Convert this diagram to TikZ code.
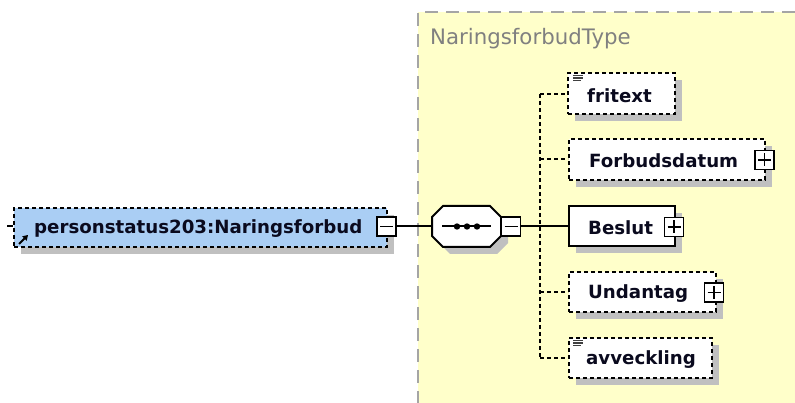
\documentclass[tikz,border=0pt]{standalone}
\usepackage{fontspec}
\setmainfont{DejaVu Sans}
\usetikzlibrary{arrows.meta,shadows}
\definecolor{yellowbg}{RGB}{255,255,202}
\definecolor{bluefill}{RGB}{170,206,244}
\definecolor{shadowgray}{RGB}{192,192,192}
\definecolor{bordergray}{RGB}{165,165,165}
\definecolor{titlegray}{RGB}{128,128,128}
\definecolor{txt}{RGB}{10,10,30}
\tikzset{
  elem/.style={draw, line width=2pt, fill=white, inner sep=0pt,
    general shadow={fill=shadowgray, shadow xshift=7pt, shadow yshift=-7pt}},
  optelem/.style={elem, dash pattern=on 4pt off 3pt},
  lbl/.style={font=\bfseries\fontsize{18.2}{20}\selectfont, text=txt, inner sep=0pt, anchor=west},
  pmbox/.style={draw, line width=1.8pt, fill=white, minimum size=19pt, inner sep=0pt},
  minusbox/.style={pmbox, path picture={\draw[line width=1.8pt]
      ([xshift=3pt]path picture bounding box.west) -- ([xshift=-3pt]path picture bounding box.east);}},
  plusbox/.style={pmbox, path picture={\draw[line width=1.8pt]
      ([xshift=3pt]path picture bounding box.west) -- ([xshift=-3pt]path picture bounding box.east)
      ([yshift=-3pt]path picture bounding box.north) -- ([yshift=3pt]path picture bounding box.south);}},
  conn/.style={line width=2pt},
  optconn/.style={line width=2pt, dash pattern=on 4pt off 3pt},
  txticon/.style={line width=1.1pt, black!75},
}
\begin{document}
\begin{tikzpicture}[x=1pt,y=-1pt]
\useasboundingbox (0,0) rectangle (795,403);
% type area
\fill[yellowbg] (418,12) rectangle (796,404);
\draw[bordergray, line width=2pt, dash pattern=on 13pt off 8pt] (418,404) -- (418,12) -- (796,12);
\node[font=\fontsize{21.3}{23}\selectfont, text=titlegray, anchor=west, inner sep=0pt] (title) at (430,39) {NaringsforbudType};

% main element
\node[optelem, fill=bluefill, minimum width=373pt, minimum height=39pt] (main) at (200.5,227.5) {};
\node[lbl] (mainlbl) at (34,229) {personstatus203:Naringsforbud};
\node[minusbox] (mainminus) at (386.5,226.5) {};
\coordinate (stub) at (7,226);
\draw[conn] (stub) -- (main.west |- stub);
\coordinate (refa) at (19,244);
\coordinate (refb) at (28,235);
\draw[line width=2pt, -{Triangle[length=5pt,width=6pt]}] (refa) -- (refb);

% sequence compositor
\node[minimum width=69pt, minimum height=41pt, inner sep=0pt] (seq) at (466.5,226.5) {};
\fill[shadowgray, xshift=7pt, yshift=-7pt] (443,206) -- (490,206) -- (501,217) -- (501,236) -- (490,247) -- (443,247) -- (432,236) -- (432,217) -- cycle;
\draw[line width=2pt, fill=white] (443,206) -- (490,206) -- (501,217) -- (501,236) -- (490,247) -- (443,247) -- (432,236) -- (432,217) -- cycle;
\coordinate (seqa) at (442,226.5);
\coordinate (seqb) at (491,226.5);
\draw[conn] (seqa) -- (seqb);
\foreach \x in {457,467,477} \fill (\x,226.5) circle (3.2pt);
\node[minusbox] (seqminus) at (511,226.5) {};
\draw[conn] (mainminus.east) -- (seq.west);

% children
\node[optelem, minimum width=107pt, minimum height=41pt] (fritext) at (621.5,94) {};
\node[lbl] (fritextlbl) at (587,96) {fritext};
\draw[txticon] (573,75.5) -- (583,75.5) (573,78) -- (583,78) (573,80.5) -- (581,80.5);

\node[optelem, minimum width=196pt, minimum height=41pt] (forbud) at (667,159.5) {};
\node[lbl] (forbudlbl) at (589,161) {Forbudsdatum};
\node[plusbox] (forbudplus) at (764.5,160) {};

\node[elem, minimum width=106pt, minimum height=40pt] (beslut) at (622,226.5) {};
\node[lbl] (beslutlbl) at (588,228) {Beslut};
\node[plusbox] (beslutplus) at (674,227) {};

\node[optelem, minimum width=147pt, minimum height=40pt] (undantag) at (642.5,292) {};
\node[lbl] (undantaglbl) at (588,293.5) {Undantag};
\node[plusbox] (undantagplus) at (714,292.5) {};

\node[optelem, minimum width=143pt, minimum height=40pt] (avveckling) at (640.5,358) {};
\node[lbl] (avvecklinglbl) at (586,360) {avveckling};
\draw[txticon] (573,340.5) -- (583,340.5) (573,343) -- (583,343) (573,345.5) -- (581,345.5);

% connectors
\coordinate (br) at (540,226.5);
\draw[conn] (seqminus.east) -- (beslut.west);
\draw[optconn] (br |- fritext.west) -- (br |- avveckling.west);
\draw[optconn] (br |- fritext.west) -- (fritext.west);
\draw[optconn] (br |- forbud.west) -- (forbud.west);
\draw[optconn] (br |- undantag.west) -- (undantag.west);
\draw[optconn] (br |- avveckling.west) -- (avveckling.west);
\end{tikzpicture}
\end{document}
